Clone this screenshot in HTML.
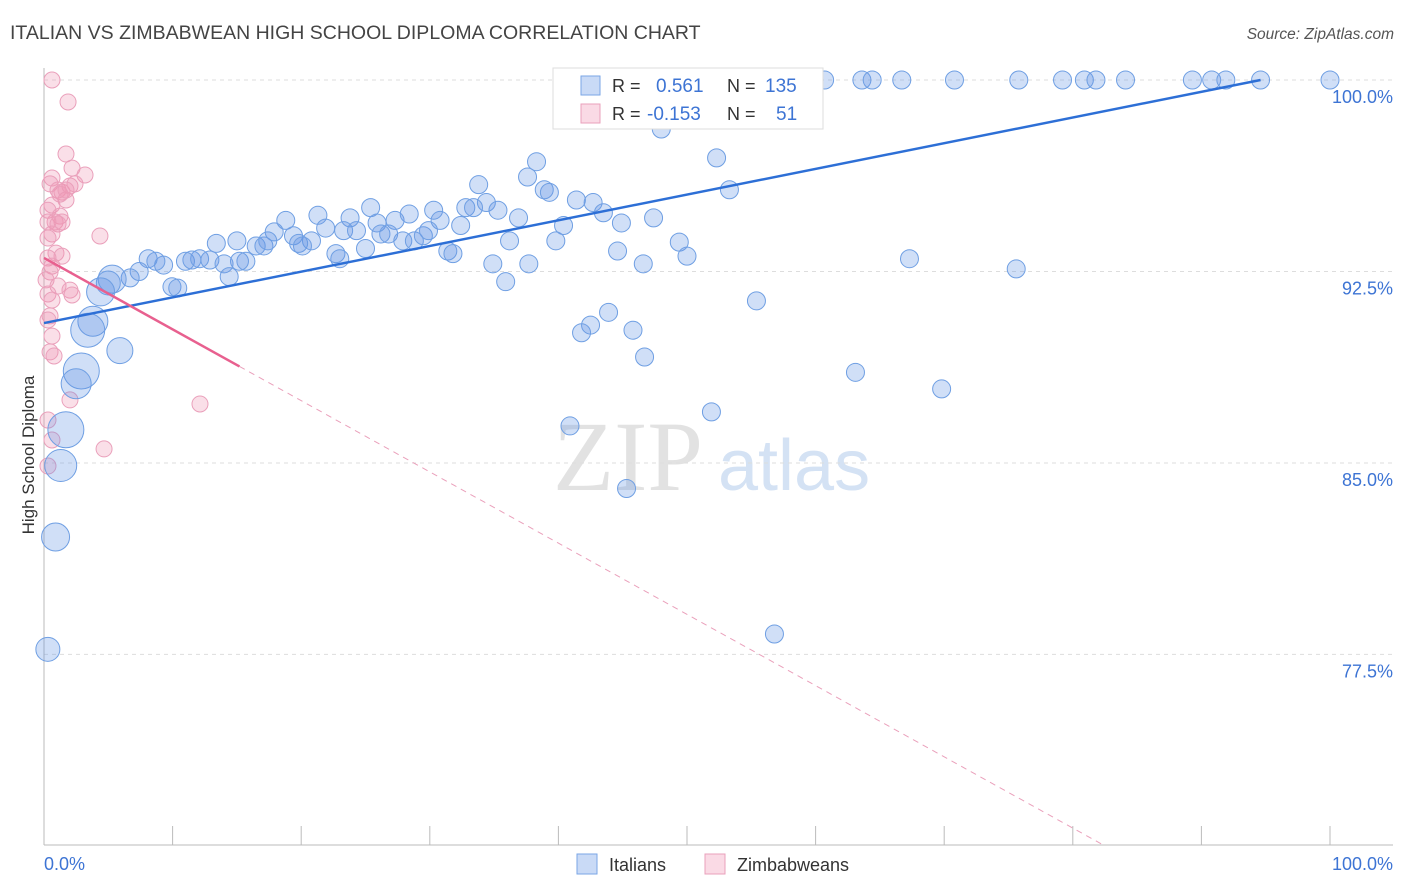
<!DOCTYPE html>
<html><head><meta charset="utf-8"><style>
body{margin:0;background:#fff;font-family:"Liberation Sans",sans-serif}
svg{display:block}
</style></head><body>
<svg id="chart" width="1406" height="892" viewBox="0 0 1406 892" xmlns="http://www.w3.org/2000/svg">
<text x="10" y="39" font-size="19.5" fill="#444">ITALIAN VS ZIMBABWEAN HIGH SCHOOL DIPLOMA CORRELATION CHART</text>
<text x="1394" y="39" font-size="15.5" fill="#555" text-anchor="end" font-style="italic">Source: ZipAtlas.com</text>
<g>
<text x="553" y="490" font-family="Liberation Serif,serif" font-size="100" fill="#e2e2e2">ZIP</text>
<text x="718" y="490" font-size="72" fill="#d4e2f4">atlas</text>
</g>
<g id="grid"></g>
<g id="axes"></g>
<g id="pinkPts"></g>
<g id="bluePts"></g>
<g id="lines"></g>
<text transform="translate(34,455) rotate(-90)" font-size="17" fill="#333" text-anchor="middle">High School Diploma</text>
<g>
<rect x="553" y="68" width="270" height="61" fill="#fff" stroke="#ddd"/>
<rect x="581" y="76" width="19" height="19" fill="rgba(100,150,230,0.35)" stroke="#7aa6e6"/>
<text x="612" y="92" font-size="18" fill="#333">R = </text><text x="656" y="92" font-size="19" fill="#3d74d4">0.561</text>
<text x="727" y="92" font-size="18" fill="#333">N = </text><text x="765" y="92" font-size="19" fill="#3d74d4">135</text>
<rect x="581" y="104" width="19" height="19" fill="rgba(240,150,180,0.35)" stroke="#eaa0bb"/>
<text x="612" y="120" font-size="18" fill="#333">R = </text><text x="647" y="120" font-size="19" fill="#3d74d4">-0.153</text>
<text x="727" y="120" font-size="18" fill="#333">N = </text><text x="776" y="120" font-size="19" fill="#3d74d4">51</text>
</g>
<g>
<rect x="577" y="854" width="20" height="20" fill="rgba(100,150,230,0.35)" stroke="#7aa6e6"/>
<text x="609" y="871" font-size="18" fill="#333">Italians</text>
<rect x="705" y="854" width="20" height="20" fill="rgba(240,150,180,0.35)" stroke="#eaa0bb"/>
<text x="737" y="871" font-size="18" fill="#333">Zimbabweans</text>
</g>
</svg>
<script>
const yTicks=[77.5,85,92.5,100];
const yTickLabels=["77.5%","85.0%","92.5%","100.0%"];
const xTickVals=[0,10,20,30,40,50,60,70,80,90,100];
const xEndLabels=["0.0%","100.0%"];
const blueX=[53.1,54.0,55.7,56.8,58.5,60.7,63.6,64.4,66.7,70.8,75.8,79.2,80.9,81.8,84.1,89.3,90.8,91.9,94.6,100,51.0,52.2,
48.0,54.5,52.3,38.3,37.6,33.8,38.9,39.3,53.3,41.4,42.7,43.5,25.4,30.3,32.8,34.4,35.3,36.9,33.4,21.3,18.8,23.8,25.9,27.3,28.4,30.8,32.4,40.4,44.9,47.4,
17.9,19.4,20.8,21.9,23.3,24.3,26.2,26.8,27.9,28.8,29.5,29.9,36.2,39.8,49.4,13.4,15.0,16.5,17.1,17.4,19.8,20.1,22.7,23.0,25.0,31.4,31.8,44.6,50.0,67.3,75.6,46.6,34.9,37.7,35.9,
8.1,9.3,8.7,11.0,11.5,12.1,12.9,14.0,15.2,15.7,14.4,7.4,6.7,5.3,5.0,9.95,10.4,4.4,55.4,43.9,42.5,41.8,45.8,46.7,3.8,3.4,5.9,2.9,2.5,63.1,69.8,51.9,40.9,1.7,1.3,45.3,0.9,56.8,0.3];
const blueY=[100,100,100,100,100,100,100,100,100,100,100,100,100,100,100,100,100,100,100,100,100,100,
98.08,98.9,96.95,96.8,96.2,95.9,95.7,95.6,95.7,95.3,95.2,94.8,95.0,94.9,95.0,95.2,94.9,94.6,95.0,94.7,94.5,94.6,94.4,94.5,94.75,94.5,94.3,94.3,94.4,94.6,
94.05,93.9,93.7,94.2,94.1,94.1,93.97,93.97,93.7,93.7,93.9,94.1,93.7,93.7,93.65,93.6,93.7,93.5,93.5,93.7,93.6,93.5,93.2,93.0,93.4,93.3,93.2,93.3,93.1,93.0,92.6,92.8,92.8,92.8,92.1,
93.0,92.75,92.9,92.9,92.95,93.0,92.95,92.8,92.9,92.9,92.3,92.5,92.25,92.2,92.05,91.9,91.85,91.7,91.35,90.9,90.4,90.1,90.2,89.15,90.55,90.2,89.4,88.6,88.1,88.55,87.9,87.0,86.45,86.3,84.9,84.0,82.1,78.3,77.7];
const blueBig={100:14,101:12,104:14,111:15,112:17,113:13,114:18,115:15,120:18,121:16,123:14,125:12};
const pinkX=[0.62,1.87,1.71,2.18,3.19,0.62,0.47,1.09,1.4,1.71,2.02,2.41,0.62,0.31,1.24,0.86,1.4,0.31,1.09,0.62,0.31,0.93,1.4,0.31,0.62,0.47,0.16,1.09,2.02,2.18,0.31,0.62,0.47,0.31,0.62,0.47,0.78,2.02,0.31,0.62,0.31,4.35,12.13,4.67,1.24,1.71];
const pinkY=[100,99.14,97.1,96.55,96.28,96.16,95.93,95.69,95.61,95.3,95.85,95.93,95.1,94.9,94.67,94.44,94.44,94.44,94.36,93.97,93.81,93.22,93.1,93.03,92.71,92.48,92.17,91.93,91.77,91.58,91.62,91.38,90.76,90.6,89.97,89.35,89.19,87.47,86.68,85.9,84.88,93.89,87.31,85.55,95.53,95.69];
const blueLine=[[0,90.48],[94.6,100]];
const pinkLine=[[0,93.03],[15.2,88.78],[82.5,70]];

const NS="http://www.w3.org/2000/svg";
const X=v=>44+v*12.86;
const Y=v=>80+(100-v)*25.53;
function mk(tag,attrs,parent){const e=document.createElementNS(NS,tag);for(const k in attrs)e.setAttribute(k,attrs[k]);parent.appendChild(e);return e;}
const grid=document.getElementById('grid'),axes=document.getElementById('axes');
yTicks.forEach((t,i)=>{
  const l=mk('line',{x1:44,x2:1393,y1:Y(t),y2:Y(t),stroke:'#ddd','stroke-dasharray':'4,4'},grid);
  
  
  const tx=mk('text',{x:1393,y:Y(t)+23,'font-size':18,fill:'#3d74d4','text-anchor':'end'},axes);
  tx.textContent=yTickLabels[i];
  
  
});
const gl=mk('line',{x1:44,x2:1393,y1:Y(100),y2:Y(100),stroke:'#ddd','stroke-dasharray':'4,4'},grid);


const xa=mk('line',{x1:44,x2:1393,y1:845,y2:845,stroke:'#bbb'},axes);


const ya=mk('line',{x1:44,x2:44,y1:68,y2:845,stroke:'#bbb'},axes);


xTickVals.forEach(v=>{
  const t=mk('line',{x1:X(v),x2:X(v),y1:826,y2:845,stroke:'#bbb'},axes);
  
  
});
const xl0=mk('text',{x:44,y:870,'font-size':18,fill:'#3d74d4'},axes);xl0.textContent=xEndLabels[0];


const xl1=mk('text',{x:1393,y:870,'font-size':18,fill:'#3d74d4','text-anchor':'end'},axes);xl1.textContent=xEndLabels[1];



const pg=document.getElementById('pinkPts');
pinkX.forEach((v,i)=>{
  const c=mk('circle',{cx:X(v),cy:Y(pinkY[i]),r:8,fill:'rgba(240,150,180,0.3)',stroke:'#eaa0bb','stroke-width':1},pg);
  
  
});
const bg=document.getElementById('bluePts');
blueX.forEach((v,i)=>{
  const c=mk('circle',{cx:X(v),cy:Y(blueY[i]),r:blueBig[i]||9,fill:'rgba(100,150,230,0.3)',stroke:'#6f9fe3','stroke-width':1},bg);
  
  
});
const lg=document.getElementById('lines');
const bl=mk('line',{x1:X(blueLine[0][0]),y1:Y(blueLine[0][1]),x2:X(blueLine[1][0]),y2:Y(blueLine[1][1]),stroke:'#2d6fd6','stroke-width':2.5},lg);


const ps=mk('line',{x1:X(pinkLine[0][0]),y1:Y(pinkLine[0][1]),x2:X(pinkLine[1][0]),y2:Y(pinkLine[1][1]),stroke:'#e8608f','stroke-width':2.5},lg);


const pd=mk('line',{x1:X(pinkLine[1][0]),y1:Y(pinkLine[1][1]),x2:X(pinkLine[2][0]),y2:Y(pinkLine[2][1]),stroke:'#eaa0bb','stroke-width':1,'stroke-dasharray':'6,5'},lg);


</script>
</body></html>
